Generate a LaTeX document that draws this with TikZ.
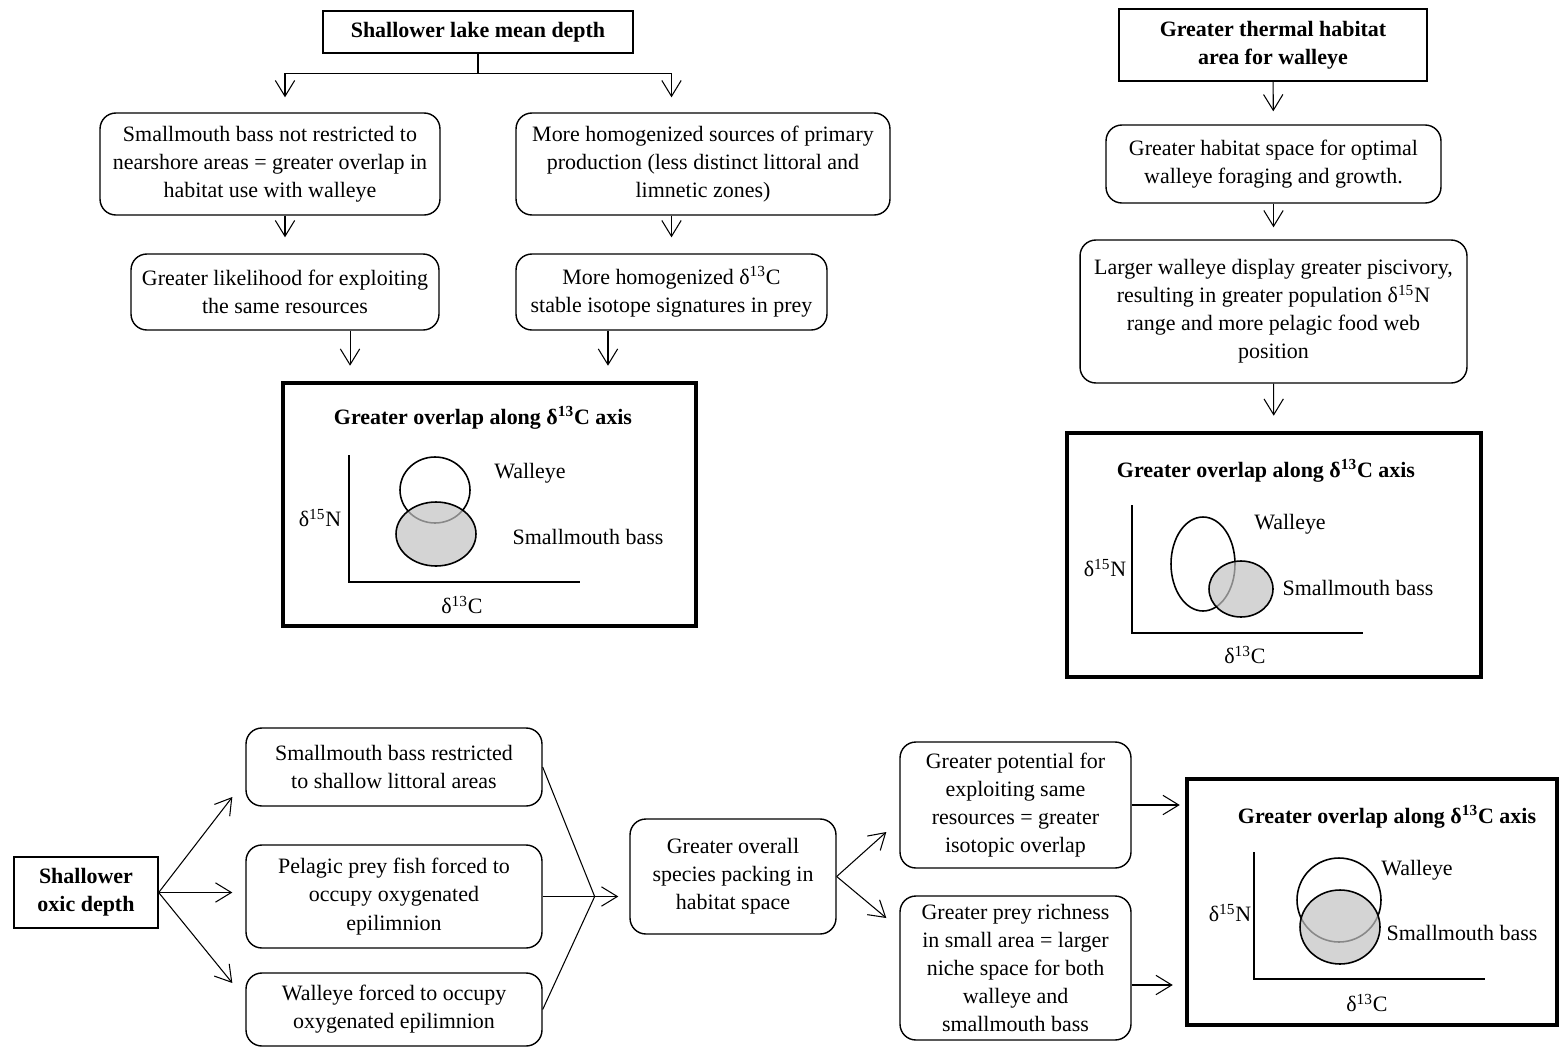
\documentclass[tikz,border=0pt]{standalone}
\usepackage{fontspec}
\setmainfont{Liberation Serif}
\usepackage{tikz}
\usetikzlibrary{arrows.meta, positioning, calc}

\begin{document}
\begin{tikzpicture}[
    x=0.02cm, y=-0.02cm,
    font=\fontsize{12.5}{16}\selectfont,
    header/.style={rectangle, draw, line width=0.8pt, font=\fontsize{12.5}{16}\selectfont\bfseries, align=center, inner sep=2pt},
    block/.style={rectangle, draw, line width=0.8pt, rounded corners=9pt, align=center, inner sep=2pt},
    result/.style={rectangle, draw, line width=2.6pt},
    line/.style={draw, line width=0.6pt},
    flow/.style={line, -{Straight Barb[length=9pt, width=11pt]}},
    species/.style={line width=0.9pt},
    basin/.style={species, fill=black!24, fill opacity=0.7}
]
    \useasboundingbox (0,0) rectangle (1562,1048);

    % Nodes
    % Top left: lake mean depth
    \node (lakedepth) [header, minimum width=6.2cm, minimum height=0.84cm] at (478,32) {Shallower lake mean depth};
    \node (nearshore) [block, minimum width=6.8cm, minimum height=2.04cm] at (270,164) {Smallmouth bass not restricted to\\nearshore areas = greater overlap in\\habitat use with walleye};
    \node (homog) [block, minimum width=7.48cm, minimum height=2.04cm] at (703,164) {More homogenized sources of primary\\production (less distinct littoral and\\limnetic zones)};
    \node (likelihood) [block, minimum width=6.16cm, minimum height=1.52cm] at (285,292) {Greater likelihood for exploiting\\the same resources};
    \node (isosig) [block, minimum width=6.22cm, minimum height=1.52cm] at (671.5,292) {More homogenized δ\textsuperscript{13}C\\stable isotope signatures in prey};
    \node (overlapA) [result, minimum width=8.26cm, minimum height=4.86cm] at (489.5,504.5) {};

    % Top right: thermal habitat
    \node (thermal) [header, minimum width=6.16cm, minimum height=1.44cm] at (1273,45) {Greater thermal habitat\\area for walleye};
    \node (habspace) [block, minimum width=6.7cm, minimum height=1.56cm] at (1273.5,164) {Greater habitat space for optimal\\walleye foraging and growth.};
    \node (larger) [block, minimum width=7.74cm, minimum height=2.86cm] at (1273.5,311.5) {Larger walleye display greater piscivory,\\resulting in greater population δ\textsuperscript{15}N\\range and more pelagic food web\\position};
    \node (overlapB) [result, minimum width=8.28cm, minimum height=4.88cm] at (1274,555) {};

    % Bottom: oxic depth
    \node (oxic) [header, minimum width=2.88cm, minimum height=1.42cm] at (86,892.5) {Shallower\\oxic depth};
    \node (restrict) [block, minimum width=5.92cm, minimum height=1.56cm] at (394,767) {Smallmouth bass restricted\\to shallow littoral areas};
    \node (pelagic) [block, minimum width=5.92cm, minimum height=2.06cm] at (394,896.5) {Pelagic prey fish forced to\\occupy oxygenated\\epilimnion};
    \node (forced) [block, minimum width=5.92cm, minimum height=1.46cm] at (394,1009.5) {Walleye forced to occupy\\oxygenated epilimnion};
    \node (packing) [block, minimum width=4.12cm, minimum height=2.3cm] at (733,876.5) {Greater overall\\species packing in\\habitat space};
    \node (pot) [block, minimum width=4.62cm, minimum height=2.52cm] at (1015.5,805) {Greater potential for\\exploiting same\\resources = greater\\isotopic overlap};
    \node (richness) [block, minimum width=4.62cm, minimum height=2.88cm] at (1015.5,968) {Greater prey richness\\in small area = larger\\niche space for both\\walleye and\\smallmouth bass};
    \node (overlapC) [result, minimum width=7.4cm, minimum height=4.92cm] at (1372,902) {};

    % Isotope plots
    % Plot A
    \node (titleA) at (483,418) {\bfseries Greater overlap along δ\textsuperscript{13}C axis};
    \draw [line] (349,455) -- (349,582) -- (580,582);
    \node (nA) at (320,518) {δ\textsuperscript{15}N};
    \node (cA) at (462,605) {δ\textsuperscript{13}C};
    \draw [species] (435,490) ellipse [x radius=0.7cm, y radius=0.66cm];
    \draw [basin] (436,534) ellipse [x radius=0.8cm, y radius=0.64cm];
    \node (wA) at (530,473) {Walleye};
    \node (sA) at (588,537) {Smallmouth bass};

    % Plot B
    \node (titleB) at (1266,471) {\bfseries Greater overlap along δ\textsuperscript{13}C axis};
    \draw [line] (1132,505) -- (1132,633) -- (1363,633);
    \node (nB) at (1105,568) {δ\textsuperscript{15}N};
    \node (cB) at (1245,655) {δ\textsuperscript{13}C};
    \draw [species] (1203,564) ellipse [x radius=0.64cm, y radius=0.94cm];
    \draw [basin] (1241,589) ellipse [x radius=0.64cm, y radius=0.56cm];
    \node (wB) at (1290,524) {Walleye};
    \node (sB) at (1358,588) {Smallmouth bass};

    % Plot C
    \node (titleC) at (1387,817) {\bfseries Greater overlap along δ\textsuperscript{13}C axis};
    \draw [line] (1254,852) -- (1254,979) -- (1485,979);
    \node (nC) at (1230,913) {δ\textsuperscript{15}N};
    \node (cC) at (1367,1003) {δ\textsuperscript{13}C};
    \draw [species] (1339,900) ellipse [x radius=0.84cm, y radius=0.84cm];
    \draw [basin] (1340,927) ellipse [x radius=0.8cm, y radius=0.74cm];
    \node (wC) at (1417,870) {Walleye};
    \node (sC) at (1462,933) {Smallmouth bass};

    % Connections
    % Lake depth splits in two
    \draw [line] (lakedepth.south) -- ++(0,20) coordinate (split);
    \draw [flow, shorten >=0.3cm] (split) -| (likelihood.north |- nearshore.north);
    \draw [flow, shorten >=0.3cm] (split) -| (isosig.north |- homog.north);
    \draw [flow, shorten >=0.32cm] (likelihood.north |- nearshore.south) -- (likelihood.north);
    \draw [flow, shorten >=0.32cm] (isosig.north |- homog.south) -- (isosig.north);
    \draw [flow, shorten >=0.3cm] ([xshift=-2.79cm]overlapA.north |- likelihood.south) -- ([xshift=-2.79cm]overlapA.north);
    \draw [flow, shorten >=0.3cm] ([xshift=2.37cm]overlapA.north |- isosig.south) -- ([xshift=2.37cm]overlapA.north);

    % Thermal habitat chain
    \draw [flow, shorten >=0.26cm] (thermal) -- (habspace);
    \draw [flow, shorten >=0.24cm] (habspace) -- (larger);
    \draw [flow, shorten >=0.3cm] (larger) -- (overlapB);

    % Oxic depth fans out
    \draw [flow] (oxic.east) -- ([xshift=-0.26cm, yshift=-0.6cm]restrict.west);
    \draw [flow, shorten >=0.26cm] (oxic.east) -- (oxic.east -| pelagic.west);
    \draw [flow] (oxic.east) -- ([xshift=-0.26cm, yshift=0.53cm]forced.west);

    % ... and joins again
    \coordinate (merge) at ([xshift=1.04cm]pelagic.east);
    \draw [line] (restrict.east) -- (merge);
    \draw [line] (pelagic.east) -- (merge);
    \draw [line] (forced.east) -- (merge);
    \draw [flow, shorten >=0.22cm] (merge) -- (merge -| packing.west);

    \draw [flow] (packing.east) -- ([xshift=-0.26cm, yshift=-0.54cm]pot.west);
    \draw [flow] (packing.east) -- ([xshift=-0.26cm, yshift=1.0cm]richness.west);
    \draw [flow, shorten >=0.1cm] (pot.east) -- (pot.east -| overlapC.west);
    \draw [flow, shorten >=0.24cm] ([yshift=-0.34cm]richness.east) -- ([yshift=-0.34cm]richness.east -| overlapC.west);

\end{tikzpicture}
\end{document}
